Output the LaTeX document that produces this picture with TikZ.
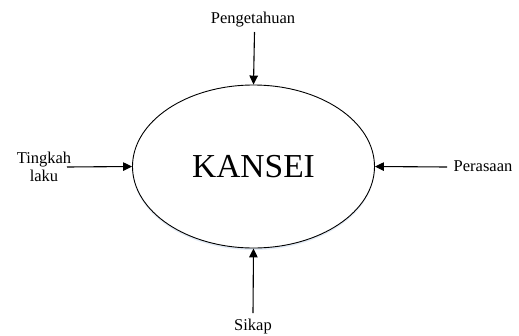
\documentclass[tikz,border=0pt]{standalone}
\usepackage{fontspec}
\setmainfont{Liberation Serif}
\usetikzlibrary{arrows.meta,shadows,shapes.geometric}
\definecolor{shadowblue}{RGB}{200,215,235}
\begin{document}
\begin{tikzpicture}[x=1pt,y=-1pt,
  lbl/.style={font=\fontsize{16.5}{18}\selectfont, inner sep=0pt},
  flow/.style={-{Triangle[length=9pt,width=8.5pt]}, line width=1.1pt}]
\useasboundingbox (0,0) rectangle (519,335);
% central concept
\node[draw, line width=0.9pt, ellipse, minimum width=242pt, minimum height=163pt,
      inner sep=0pt, fill=white,
      drop shadow={shadow xshift=0pt, shadow yshift=-2pt, fill=shadowblue, opacity=0.5}]
  (k) at (253.5,166.5) {\fontsize{33.5}{36}\selectfont KANSEI};
% inputs
\node[lbl] (p) at (253,20) {Pengetahuan};
\node[lbl] (s) at (253,327) {Sikap};
\node[lbl, align=center] (t) at (44,167) {Tingkah\\laku};
\node[lbl] (r) at (483,166) {Perasaan};
\coordinate (ptop) at (254.5,32);
\coordinate (sbot) at (253,313);
\coordinate (tend) at (67,167);
\coordinate (rend) at (447,167);
\draw[flow] (ptop) -- (k.north);
\draw[flow] (sbot) -- (k.south);
\draw[flow] (tend) -- (k.west);
\draw[flow] (rend) -- (k.east);
\end{tikzpicture}
\end{document}
